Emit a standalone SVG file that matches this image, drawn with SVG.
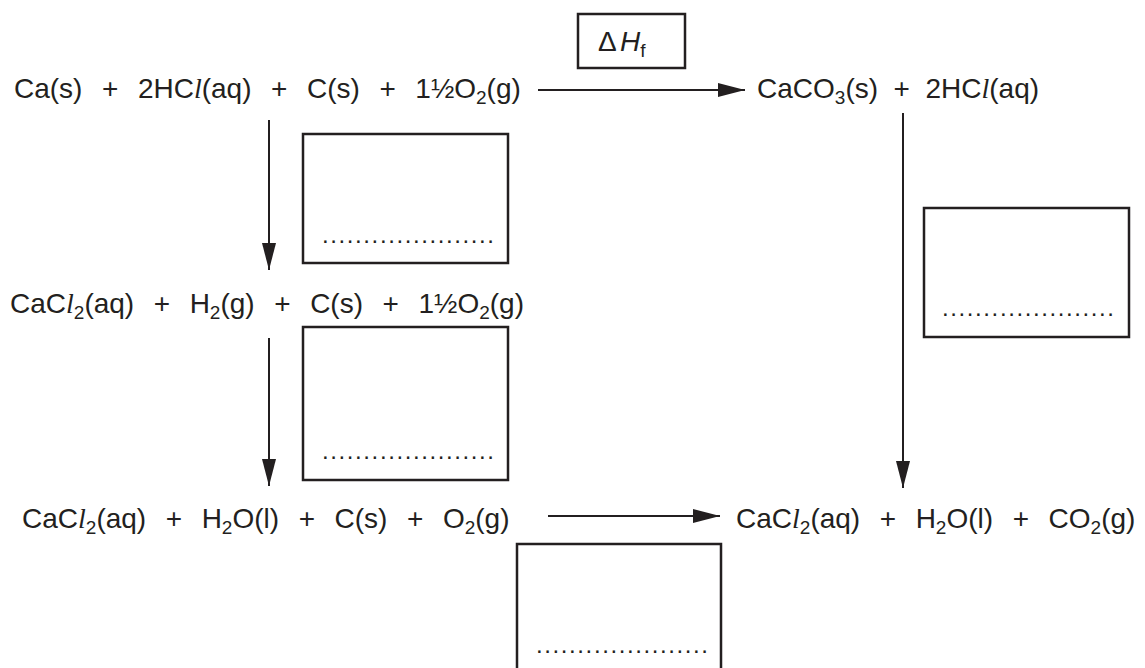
<svg xmlns="http://www.w3.org/2000/svg" width="1145" height="668" viewBox="0 0 1145 668">
<defs>
<marker id="ah" markerWidth="28" markerHeight="14" refX="27" refY="7" orient="auto" markerUnits="userSpaceOnUse">
<path d="M0,0 L27,7 L0,14 Z" fill="#231f20"/>
</marker>
<style>
.t{font-family:"Liberation Sans",Arial,sans-serif;font-size:28px;fill:#231f20;white-space:pre;word-spacing:2px}
.l{font-family:"Liberation Serif","Times New Roman",serif;font-style:italic}
.sub{font-size:19px}
.box{fill:none;stroke:#231f20;stroke-width:2.5}
.dots{font-family:"Liberation Sans",Arial,sans-serif;font-size:24px;letter-spacing:1.6px;fill:#231f20}
.ln{stroke:#231f20;stroke-width:2;fill:none}
</style>
</defs>
<rect width="1145" height="668" fill="#fff"/>

<g id="connectors">
<line class="ln" x1="538" y1="90" x2="745" y2="90" marker-end="url(#ah)"/>
<line class="ln" x1="269" y1="120" x2="269" y2="270" marker-end="url(#ah)"/>
<line class="ln" x1="269" y1="338" x2="269" y2="486" marker-end="url(#ah)"/>
<line class="ln" x1="903" y1="113" x2="903" y2="488" marker-end="url(#ah)"/>
<line class="ln" x1="548" y1="516" x2="720" y2="516" marker-end="url(#ah)"/>
</g>

<g id="n1">
<text class="t" x="14" y="98">Ca(s)  +  2HC<tspan class="l">l</tspan>(aq)  +  C(s)  +  1½O<tspan class="sub" dy="6">2</tspan><tspan dy="-6">(g)</tspan></text>
</g>

<g id="n2">
<text class="t" x="757" y="98" style="word-spacing:0px">CaCO<tspan class="sub" dy="6">3</tspan><tspan dy="-6">(s)  +  2HC</tspan><tspan class="l">l</tspan>(aq)</text>
</g>

<g id="dh">
<rect class="box" x="578" y="14" width="107" height="54"/>
<text class="t" y="51" font-size="26"><tspan x="598">Δ</tspan><tspan x="620" font-style="italic">H</tspan><tspan class="sub" dy="6">f</tspan></text>
</g>

<g id="n3">
<text class="t" x="10" y="313">CaC<tspan class="l">l</tspan><tspan class="sub" dy="6">2</tspan><tspan dy="-6">(aq)  +  H</tspan><tspan class="sub" dy="6">2</tspan><tspan dy="-6">(g)  +  C(s)  +  1½O</tspan><tspan class="sub" dy="6">2</tspan><tspan dy="-6">(g)</tspan></text>
</g>

<g id="n4">
<text class="t" x="22" y="528">CaC<tspan class="l">l</tspan><tspan class="sub" dy="6">2</tspan><tspan dy="-6">(aq)  +  H</tspan><tspan class="sub" dy="6">2</tspan><tspan dy="-6">O(l)  +  C(s)  +  O</tspan><tspan class="sub" dy="6">2</tspan><tspan dy="-6">(g)</tspan></text>
</g>

<g id="n5">
<text class="t" x="736" y="528">CaC<tspan class="l">l</tspan><tspan class="sub" dy="6">2</tspan><tspan dy="-6">(aq)  +  H</tspan><tspan class="sub" dy="6">2</tspan><tspan dy="-6">O(l)  +  CO</tspan><tspan class="sub" dy="6">2</tspan><tspan dy="-6">(g)</tspan></text>
</g>

<g id="b1">
<rect class="box" x="303" y="134" width="205" height="129"/>
<text class="dots" x="322" y="243">.....................</text>
</g>
<g id="b2">
<rect class="box" x="303" y="327" width="205" height="153"/>
<text class="dots" x="322" y="459">.....................</text>
</g>
<g id="b3">
<rect class="box" x="924" y="208" width="205" height="129"/>
<text class="dots" x="942" y="316">.....................</text>
</g>
<g id="b4">
<path class="box" d="M517,670 V544 H721 V670"/>
<text class="dots" x="536" y="653">.....................</text>
</g>
</svg>
